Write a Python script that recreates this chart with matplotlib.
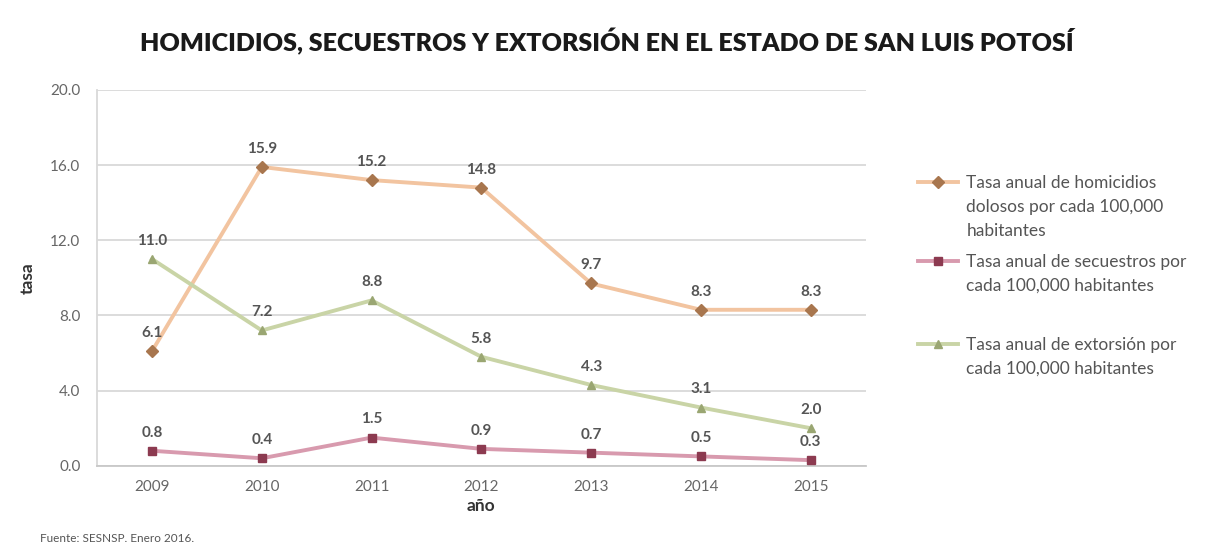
import matplotlib
matplotlib.use("Agg")
import matplotlib.pyplot as plt
from matplotlib.lines import Line2D

plt.rcParams['font.family'] = ['Lato', 'DejaVu Sans']

years = ["2009", "2010", "2011", "2012", "2013", "2014", "2015"]
homicidios = [6.1, 15.9, 15.2, 14.8, 9.7, 8.3, 8.3]
secuestros = [0.8, 0.4, 1.5, 0.9, 0.7, 0.5, 0.3]
extorsion = [11.0, 7.2, 8.8, 5.8, 4.3, 3.1, 2.0]
legend_lines = [
    ["Tasa anual de homicidios", "dolosos por cada 100,000", "habitantes"],
    ["Tasa anual de secuestros por", "cada 100,000 habitantes"],
    ["Tasa anual de extorsión por", "cada 100,000 habitantes"],
]
yticks = [0.0, 4.0, 8.0, 12.0, 16.0, 20.0]

fig = plt.figure(figsize=(12.14, 5.48), dpi=100)
ax = fig.add_axes([0.080, 0.150, 0.633, 0.686])

x = list(range(len(years)))
series = [
    (homicidios, '#F2C4A0', '#A8764E', 'D'),
    (secuestros, '#D89AAE', '#8C3A50', 's'),
    (extorsion, '#C9D4A6', '#9AA672', '^'),
]
handles = []
for vals, lc, mc, mk in series:
    ax.plot(x, vals, color=lc, lw=2.8, marker=mk, ms=6, mfc=mc, mec=mc, zorder=3)
    handles.append(Line2D([0], [0], color=lc, lw=2.8, marker=mk, ms=6, mfc=mc, mec=mc))
    for xi, v in zip(x, vals):
        ax.annotate(f"{v:.1f}", (xi, v), xytext=(0, 8), textcoords='offset points',
                    ha='center', va='bottom', fontsize=11, fontweight='bold', color='#555555')

ax.set_xlim(-0.5, len(years) - 0.5)
ax.set_ylim(0, 20)
ax.set_yticks(yticks)
ax.set_yticklabels([f"{t:.1f}" for t in yticks], fontsize=11, color='#666666')
ax.set_xticks(x)
ax.set_xticklabels(years, fontsize=11, color='#666666')
ax.tick_params(axis='y', length=0, pad=12)
ax.tick_params(axis='x', length=0, pad=10)
ax.yaxis.grid(True, color='#D9D9D9', lw=1.3)
ax.set_axisbelow(True)
for s in ['top', 'right']:
    ax.spines[s].set_visible(False)
ax.spines['left'].set_color('#D9D9D9')
ax.spines['bottom'].set_color('#C8C8C8')
ax.spines['left'].set_linewidth(1.3)
ax.spines['bottom'].set_linewidth(1.3)

ax.set_ylabel("tasa", fontsize=12.5, fontweight='bold', color='#333333', va='center')
ax.yaxis.set_label_coords(-0.090, 0.5)
ax.set_xlabel("año", fontsize=12.5, fontweight='bold', color='#333333', va='center')
ax.xaxis.set_label_coords(0.5, -0.108)

fig.text(0.5, 0.923, "HOMICIDIOS, SECUESTROS Y EXTORSIÓN EN EL ESTADO DE SAN LUIS POTOSÍ",
         ha='center', va='center', fontsize=18, fontweight='heavy', color='#1A1A1A')
fig.text(0.033, 0.018, "Fuente: SESNSP. Enero 2016.", fontsize=8.5, color='#555555',
         ha='left', va='center')

blank = Line2D([], [], color='none')
tops = [0.680, 0.537, 0.385]
for h, lines, top in zip(handles, legend_lines, tops):
    hs = [h] + [blank] * (len(lines) - 1)
    fig.legend(hs, lines, loc='upper left', bbox_to_anchor=(0.756, top),
               frameon=False, fontsize=12.5, labelspacing=0.45, handlelength=2.3,
               handletextpad=0.5, borderpad=0, borderaxespad=0, labelcolor='#555555')

fig.savefig("out.png", dpi=100)
